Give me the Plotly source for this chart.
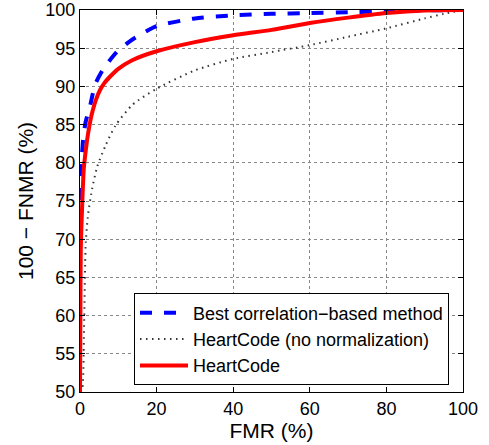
import plotly.graph_objects as go

# Data
best_fmr = [0, 0.02, 0.1, 0.35, 0.87, 1.5, 2.8, 3.9, 6.1, 9.6, 13, 16.5, 20, 30, 40, 50, 60, 70, 80, 90, 100]
best_val = [50, 73, 77.1, 79.7, 83.4, 85.4, 87.8, 90.2, 92.3, 94.5, 95.9, 97.0, 97.9, 98.9, 99.3, 99.5, 99.6, 99.7, 99.85, 99.95, 100]

nonorm_fmr = [0, 0.6, 1.0, 1.5, 2.1, 3.2, 4.5, 6.7, 9.3, 13.7, 20, 30, 40, 50, 60, 70, 80, 90, 95, 100]
nonorm_val = [50, 50.5, 57, 69.5, 73.2, 76.7, 79.5, 82.3, 84.9, 87.6, 89.7, 92.1, 93.6, 94.5, 95.4, 96.5, 97.6, 98.9, 99.5, 100]

hc_fmr = [0, 0.1, 0.2, 0.6, 1.0, 1.6, 2.1, 2.7, 3.3, 4.2, 5.2, 6.3, 7.5, 10, 13.5, 20, 30, 40, 50, 60, 70, 80, 90, 100]
hc_val = [50, 60, 68.8, 74.9, 79.3, 82.0, 83.8, 85.5, 86.8, 88.3, 89.5, 90.4, 91.1, 92.3, 93.4, 94.6, 95.8, 96.7, 97.4, 98.3, 99.0, 99.6, 99.95, 100]

x_ticks = [0, 20, 40, 60, 80, 100]
y_ticks = [50, 55, 60, 65, 70, 75, 80, 85, 90, 95, 100]

FONT = "Liberation Sans, Arial, Helvetica, sans-serif"

fig = go.Figure()
fig.add_trace(go.Scatter(x=best_fmr, y=best_val, mode="lines",
                         name="Best correlation\u2212based method",
                         line=dict(color="#0000ff", width=4, dash="dash", shape="spline", smoothing=0.6)))
fig.add_trace(go.Scatter(x=nonorm_fmr, y=nonorm_val, mode="lines",
                         name="HeartCode (no normalization)",
                         line=dict(color="#333333", width=2, dash="1.5px,4.5px", shape="spline", smoothing=0.6)))
fig.add_trace(go.Scatter(x=hc_fmr, y=hc_val, mode="lines",
                         name="HeartCode",
                         line=dict(color="#ff0000", width=4, shape="spline", smoothing=0.6)))

axis_common = dict(
    showline=True, linecolor="black", linewidth=1, mirror="ticks",
    ticks="inside", ticklen=5, tickcolor="black",
    showgrid=True, gridcolor="#888888", griddash="dot", gridwidth=1,
    zeroline=False, tickfont=dict(family=FONT, size=18, color="black"),
    ticklabeloverflow="allow",
)

fig.update_xaxes(range=[0, 100], tickvals=x_ticks, ticktext=[str(v) for v in x_ticks],
                 title=dict(text="FMR (%)", font=dict(family=FONT, size=21, color="black"), standoff=0),
                 **axis_common)
fig.update_yaxes(range=[50, 100], tickvals=y_ticks, ticktext=[str(v) for v in y_ticks],
                 title=dict(text="100 \u2212 FNMR (%)", font=dict(family=FONT, size=21, color="black"), standoff=6),
                 **axis_common)

fig.update_layout(
    width=489, height=445,
    margin=dict(l=80, r=26, t=10, b=53, autoexpand=False),
    paper_bgcolor="white", plot_bgcolor="white",
    font=dict(family=FONT, size=18, color="black"),
    legend=dict(x=0.141, y=0.258, xanchor="left", yanchor="top",
                bgcolor="white", bordercolor="black", borderwidth=1,
                font=dict(family=FONT, size=18, color="black"),
                tracegroupgap=0, itemwidth=48),
    showlegend=True,
)

fig.write_html("out.html", config={"displayModeBar": False},
               post_script="document.body.style.margin='0';")
